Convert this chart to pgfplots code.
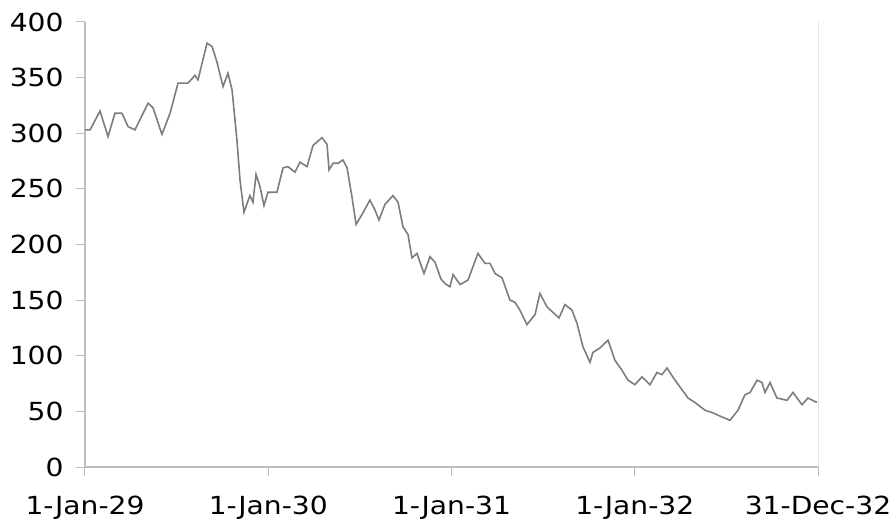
\documentclass[border=0pt]{standalone}
\usepackage{fontspec}
\setmainfont{DejaVu Sans}
\newfontfamily\tickfont[FakeStretch=1.13]{DejaVu Sans}
\usepackage{pgfplots}
\pgfplotsset{compat=1.18}

\definecolor{axgray}{RGB}{190,190,190}
\definecolor{boxgray}{RGB}{228,228,228}
\definecolor{linegray}{RGB}{125,125,125}

\begin{document}
\begin{tikzpicture}
\begin{axis}[
    name=ax,
    scale only axis,
    width=733bp, height=445bp,
    xmin=0, xmax=48,
    ymin=0, ymax=400,
    xtick={0,12,24,36,48},
    xticklabels={1-Jan-29,1-Jan-30,1-Jan-31,1-Jan-32,31-Dec-32},
    ytick={0,50,...,400},
    tick pos=left,
    tick align=outside,
    major tick length=9bp,
    tick style={axgray, line width=1bp},
    axis line style={draw=none},
    ticklabel style={font=\tickfont\fontsize{25}{25}\selectfont},
    xticklabel style={yshift=-16bp},
    yticklabel style={xshift=-9bp},
    /pgf/number format/assume math mode=true,
    clip=false,
]
\draw[boxgray, line width=1bp] (rel axis cs:1,0) -- (rel axis cs:1,1);
\draw[axgray, line width=2bp] (rel axis cs:0,1) -- (rel axis cs:0,0) -- (rel axis cs:1,0);

\addplot[linegray, line width=1.6bp, mark=none] coordinates {
(0.00,303) (0.33,303) (0.98,320) (1.51,297) (1.96,318) (2.42,318) (2.82,306)
(3.27,303) (4.13,327) (4.45,323) (5.04,299) (5.57,318) (6.09,345) (6.74,345)
(7.20,352) (7.40,348) (7.99,381) (8.32,378) (8.64,364) (9.04,342) (9.36,354)
(9.63,339) (9.95,294) (10.15,258) (10.41,229) (10.80,244) (11.00,238) (11.20,263)
(11.46,252) (11.72,235) (11.98,247) (12.57,247) (12.97,269) (13.29,270) (13.75,265)
(14.08,274) (14.54,270) (14.93,289) (15.52,296) (15.85,290) (15.98,267) (16.24,273)
(16.57,273) (16.89,276) (17.16,269) (17.48,243) (17.75,218) (18.14,227) (18.66,240)
(18.99,231) (19.25,222) (19.64,236) (20.17,244) (20.50,238) (20.82,216) (21.15,209)
(21.41,188) (21.74,192) (21.94,184) (22.20,174) (22.59,189) (22.92,184) (23.31,169)
(23.57,165) (23.90,162) (24.10,173) (24.56,164) (25.08,168) (25.73,192) (26.19,183)
(26.52,183) (26.85,174) (27.31,170) (27.83,150) (28.16,148) (28.48,141) (28.94,128)
(29.47,137) (29.79,156) (30.25,144) (30.64,139) (31.04,134) (31.43,146) (31.89,141)
(32.22,129) (32.61,108) (33.07,94) (33.26,103) (33.72,107) (34.25,114) (34.70,96)
(35.16,87) (35.56,78) (36.01,74) (36.47,81) (37.00,74) (37.45,85) (37.78,83)
(38.11,89) (38.64,78) (38.96,72) (39.49,62) (39.94,58) (40.60,51) (41.06,49)
(41.71,45) (42.24,42) (42.76,51) (43.22,65) (43.55,67) (44.01,78) (44.33,76)
(44.53,67) (44.86,76) (45.31,62) (45.97,60) (46.36,67) (46.95,56) (47.34,62)
(47.93,58)
};
\end{axis}
\pgfresetboundingbox
\path ([xshift=-85bp,yshift=-55bp]ax.south west) rectangle ([xshift=76bp,yshift=22bp]ax.north east);
\end{tikzpicture}
\end{document}
